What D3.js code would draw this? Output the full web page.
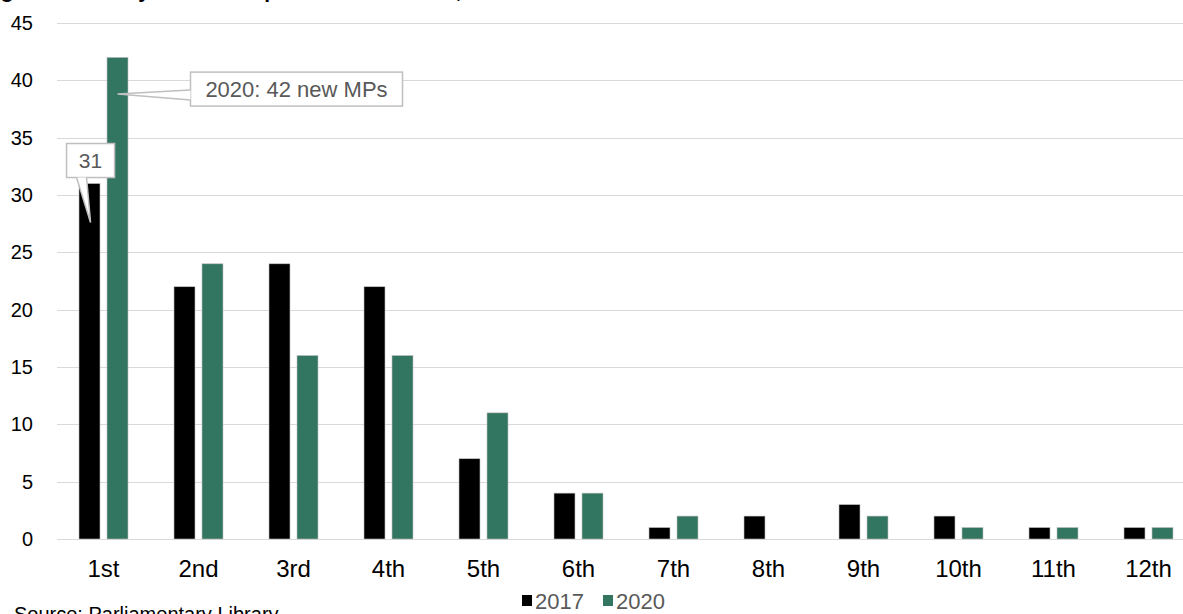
<!DOCTYPE html>
<html><head><meta charset="utf-8">
<script src="https://cdn.jsdelivr.net/npm/d3@7"></script>
<style>
html,body{margin:0;padding:0;background:#fff;overflow:hidden}
svg{display:block;font-family:Arial,"Liberation Sans",sans-serif}
</style></head>
<body>
<svg id="c" width="1183" height="614"></svg>
<script>
const categories = ["1st","2nd","3rd","4th","5th","6th","7th","8th","9th","10th","11th","12th"];
const series = ["2017","2020"];
const values2017 = [31,22,24,22,7,4,1,2,3,2,1,1];
const values2020 = [42,24,16,16,11,4,2,0,2,1,1,1];
const yTicks = [0,5,10,15,20,25,30,35,40,45];
const colors = {"2017":"#000000","2020":"#327561"};
const titleText = "Figure 9: MPs by number of parliaments served, 2017 and 2020";
const sourceText = "Source: Parliamentary Library";

const svg = d3.select("#c");
const W = 1183, H = 614;
const x0 = d3.scaleBand().domain(categories).range([56, 1196]);
const x1 = d3.scaleBand().domain(series).range([23, 72]).paddingInner(0.25);
const y = d3.scaleLinear().domain([0,45]).range([539, 23]);

// title (mostly clipped at top)
svg.append("text").attr("x", -18).attr("y", -2).attr("font-size", 21).attr("font-weight", "bold")
  .attr("fill", "#000").text(titleText);

// gridlines
svg.append("g").selectAll("line").data(yTicks).join("line")
  .attr("x1", 57).attr("x2", W).attr("y1", d => Math.round(y(d)) + 0.5).attr("y2", d => Math.round(y(d)) + 0.5)
  .attr("stroke", "#d9d9d9").attr("stroke-width", 1);

// y axis labels
const yAxis = d3.axisLeft(y).tickValues(yTicks).tickSize(0).tickPadding(0);
const gy = svg.append("g").attr("transform", "translate(33,0)").call(yAxis);
gy.select(".domain").remove();
gy.selectAll("text").attr("font-size", 20).attr("fill", "#000").attr("font-family", "Arial, 'Liberation Sans', sans-serif");

// x axis labels
const xAxis = d3.axisBottom(x0).tickSize(0).tickPadding(0);
const gx = svg.append("g").attr("transform", "translate(0,560)").call(xAxis);
gx.select(".domain").remove();
gx.selectAll("text").attr("font-size", 24).attr("fill", "#000").attr("dy", "0.72em").attr("font-family", "Arial, 'Liberation Sans', sans-serif");

// bars
const rows = categories.map((c, i) => ({cat: c, vals: [{s:"2017", v: values2017[i]}, {s:"2020", v: values2020[i]}]}));
const groups = svg.append("g").selectAll("g").data(rows).join("g")
  .attr("transform", d => `translate(${x0(d.cat)},0)`);
groups.selectAll("rect").data(d => d.vals.filter(e => e.v > 0)).join("rect")
  .attr("x", d => x1(d.s)).attr("width", x1.bandwidth())
  .attr("y", d => y(d.v)).attr("height", d => y(0) - y(d.v))
  .attr("fill", d => colors[d.s]).attr("stroke", "#bfbfbf").attr("stroke-width", 0.6);

// callouts
function callout(tx, ty, bx, by, bw, bh, basePts, label, fs) {
  const g = svg.append("g");
  g.append("rect").attr("x", bx).attr("y", by).attr("width", bw).attr("height", bh)
    .attr("fill", "#fff").attr("stroke", "#bfbfbf").attr("stroke-width", 1.5);
  g.append("path").attr("d", `M${basePts[0][0]},${basePts[0][1]} L${tx},${ty} L${basePts[1][0]},${basePts[1][1]} Z`)
    .attr("fill", "#fff").attr("stroke", "none");
  g.append("path").attr("d", `M${basePts[0][0]},${basePts[0][1]} L${tx},${ty} L${basePts[1][0]},${basePts[1][1]}`)
    .attr("fill", "none").attr("stroke", "#bfbfbf").attr("stroke-width", 1.5);
  g.append("text").attr("x", bx + bw/2).attr("y", by + bh/2 + fs*0.36).attr("text-anchor", "middle")
    .attr("font-size", fs).attr("fill", "#595959").text(label);
}
// 31 callout on 2017 first bar
{
  const tx = x0("1st") + x1("2017") + x1.bandwidth()*0.55, ty = y(27.6);
  callout(tx, ty, tx - 24, ty - 79, 48, 34, [[tx - 14, ty - 45], [tx - 4, ty - 45]], String(values2017[0]), 21);
}
// 2020 callout
{
  const tx = x0("1st") + x1("2020") + x1.bandwidth()*0.5, ty = y(38.8);
  callout(tx, ty, tx + 73, ty - 22, 212, 34, [[tx + 73, ty - 4], [tx + 73, ty + 6]], "2020: " + values2020[0] + " new MPs", 22);
}

// legend
const lg = svg.append("g").attr("transform", "translate(522,609)");
const items = [{s:"2017", x:0}, {s:"2020", x:81}];
items.forEach(it => {
  lg.append("rect").attr("x", it.x).attr("y", -14).attr("width", 10).attr("height", 11).attr("fill", colors[it.s]);
  lg.append("text").attr("x", it.x + 13).attr("y", 0).attr("font-size", 22).attr("fill", "#595959").text(it.s);
});

// source
svg.append("text").attr("x", 14).attr("y", 621).attr("font-size", 20).attr("fill", "#000").text(sourceText);
</script>
</body></html>
